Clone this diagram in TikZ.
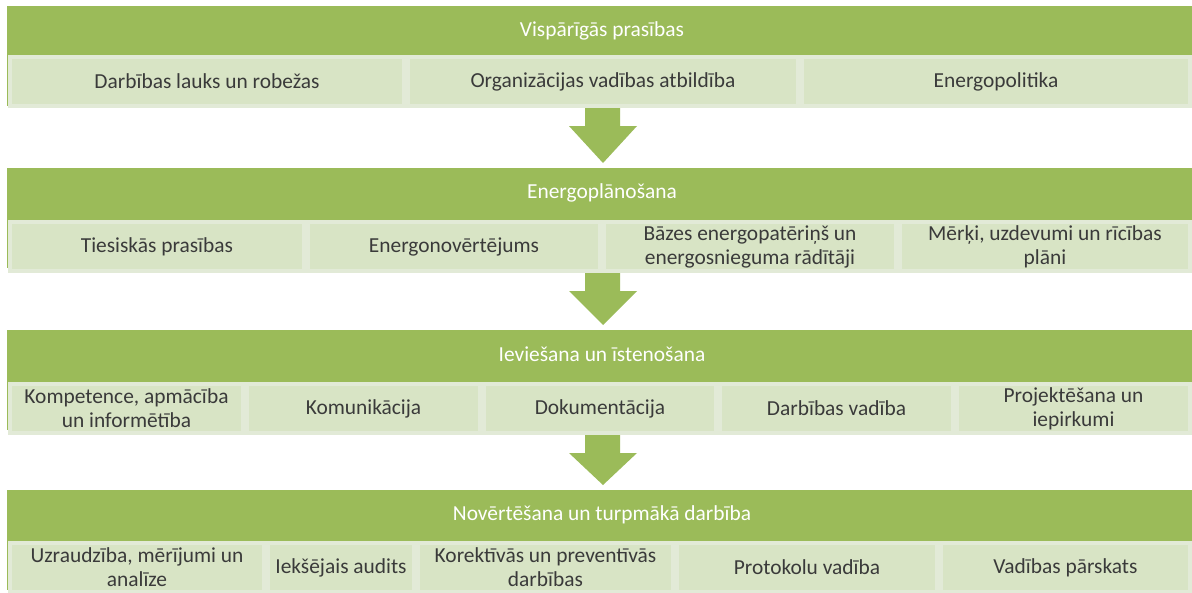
\documentclass[tikz,border=0pt]{standalone}
\usepackage{fontspec}
\setmainfont{Carlito}
\definecolor{hdr}{HTML}{9BBB59}
\definecolor{cell}{HTML}{D8E4C5}
\definecolor{cellrim}{HTML}{E2EAD7}
\definecolor{txt}{HTML}{3A3A3A}
\newcommand\cellnode[6]{\node[cellbox, minimum width={#3-#2-4}, minimum height={#5-#4-4}] (#1) at ({(#2+#3)/2},{(#4+#5)/2}) {#6};}
\newcommand\bandnode[3]{\node[band, minimum width=1185, minimum height=100, anchor=north west] (#1) at (7,#2) {};
  \node[hdrtext] (#1t) at (602,{#2+24.5}) {#3};}
\newcommand\blockarrowdown[2]{\fill[hdr] (585,#1) -- (620,#1) -- (620,{#1+20}) -- (637,{#1+20}) -- (603,#2) -- (569,{#1+20}) -- (585,{#1+20}) -- cycle;}
\begin{document}
\begin{tikzpicture}[x=1pt,y=-1pt,
  band/.style={fill=hdr, draw=none, inner sep=0},
  hdrtext/.style={text=white, font=\fontsize{21.4}{24}\selectfont, inner sep=0},
  cellbox/.style={fill=cell, draw=cellrim, line width=4pt, text=txt, font=\fontsize{21.4}{24}\selectfont, align=center, inner sep=0}]
\useasboundingbox[fill=white] (0,0) rectangle (1192,592);

% bands
\bandnode{b1}{6}{Vispārīgās prasības}
\bandnode{b2}{168}{Energoplānošana}
\bandnode{b3}{330}{Ieviešana un īstenošana}
\bandnode{b4}{490}{Novērtēšana un turpmākā darbība}

% arrows
\blockarrowdown{106}{163}
\blockarrowdown{271}{325}
\blockarrowdown{433}{485}

% row 1
\cellnode{c11}{8}{406}{55}{108}{Darbības lauks un robežas}
\cellnode{c12}{406}{800}{55}{108}{Organizācijas vadības atbildība}
\cellnode{c13}{800}{1192}{55}{108}{Energopolitika}

% row 2
\cellnode{c21}{8}{306}{220}{273}{Tiesiskās prasības}
\cellnode{c22}{306}{602}{220}{273}{Energonovērtējums}
\cellnode{c23}{602}{898}{220}{273}{Bāzes energopatēriņš un\\energosnieguma rādītāji}
\cellnode{c24}{898}{1192}{220}{273}{Mērķi, uzdevumi un rīcības\\plāni}

% row 3
\cellnode{c31}{8}{245}{382}{435}{Kompetence, apmācība\\un informētība}
\cellnode{c32}{245}{482}{382}{435}{Komunikācija}
\cellnode{c33}{482}{718}{382}{435}{Dokumentācija}
\cellnode{c34}{718}{955}{382}{435}{Darbības vadība}
\cellnode{c35}{955}{1192}{382}{435}{Projektēšana un\\iepirkumi}

% row 4
\cellnode{c41}{8}{266}{541}{594}{Uzraudzība, mērījumi un\\analīze}
\cellnode{c42}{266}{416}{541}{594}{Iekšējais audits}
\cellnode{c43}{416}{675}{541}{594}{Korektīvās un preventīvās\\darbības}
\cellnode{c44}{675}{939}{541}{594}{Protokolu vadība}
\cellnode{c45}{939}{1192}{541}{594}{Vadības pārskats}
\end{tikzpicture}
\end{document}
